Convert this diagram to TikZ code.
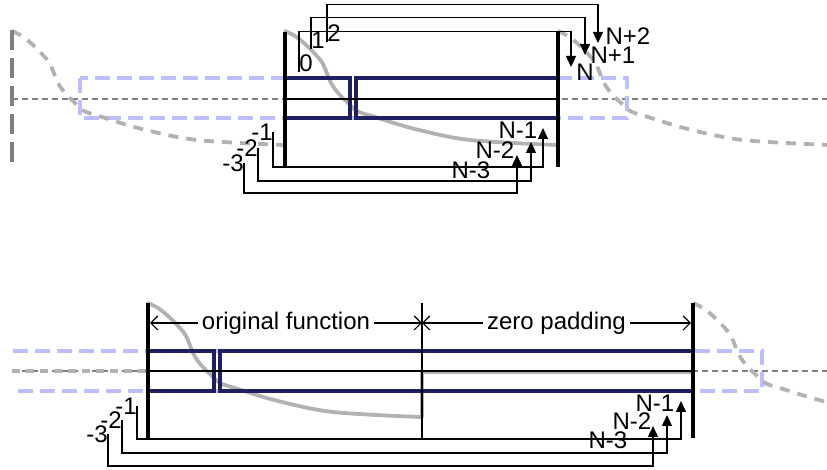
\documentclass[tikz,border=0pt]{standalone}
\usepackage{fontspec}
\setmainfont{Liberation Sans}
\usetikzlibrary{arrows.meta}
\definecolor{cellblue}{RGB}{32,32,96}
\definecolor{ghostblue}{RGB}{190,190,255}
\definecolor{fngray}{RGB}{178,178,178}
\newcommand{\fncurve}{plot[smooth,tension=0.55] coordinates {(0,-68) (10,-63) (20,-55) (30,-45) (38,-35) (46,-16) (54,-5) (62,3) (72,12) (90,18) (130,30) (185,41) (272,46)}}
\tikzset{
	bar/.style={line width=2.2pt},
	cell/.style={draw=cellblue,line width=1.6pt},
	ghost/.style={draw=ghostblue,line width=1.6pt,dash pattern=on 7.5pt off 3.5pt},
	fn/.style={draw=fngray,line width=1.9pt,line join=round,line cap=round},
	fnext/.style={fn,line cap=butt,dash pattern=on 5pt off 4pt},
	axis/.style={draw=gray,line width=0.6pt,dash pattern=on 3pt off 2pt},
	wrap/.style={line width=0.6pt,-{Triangle[length=5.5pt,width=5pt]}},
	dim/.style={line width=0.6pt,{Straight Barb[length=3.5pt,width=7pt]}-{Straight Barb[length=3.5pt,width=7pt]}},
	idx/.style={inner sep=0pt,font=\fontsize{12}{14}\selectfont}
}
\begin{document}
\begin{tikzpicture}[x=0.5pt,y=-0.5pt]
	\useasboundingbox (0,0) rectangle (827,470);
	\begin{scope}
		\clip (0,0) rectangle (827,470);
		\draw[axis] (12,99) -- (827,99);\draw[ghost] (80,78) rectangle (627,118);
		\draw[fnext,shift={(12,99)}] \fncurve;\draw[fnext,shift={(558,99)}] \fncurve;
		\draw[draw=gray,line width=2pt,dash pattern=on 10pt off 4pt] (12,30) -- (12,167);
		\draw[axis] (12,371) -- (827,371);\draw[ghost] (13,351) -- (762,351) -- (762,391) -- (13,391);
		\draw[fnext,dash pattern=on 4pt off 3pt] (12,371) -- (146,371);\draw[fnext,shift={(693,371)}] \fncurve;
	\end{scope}
	% circular wrap
	\draw[fn,shift={(285,99)}] \fncurve;
	\draw[cell] (285,78) rectangle (350,118);\draw[cell] (356,78) rectangle (558,118);\draw[line width=0.6pt] (285,99) -- (558,99);
	\draw[bar] (285,32) -- (285,167);\draw[bar] (558,32) -- (558,167);
	\foreach \n/\lx/\ly/\h/\tx/\ty/\txt/\nx/\ny in {0/306/63/40/571/67/N/585/72,1/318/40/31/585/55/N+1/613/55,2/334/33/37/598/43/N+2/628/36}{
		\node[idx] (l\n) at (\lx,\ly) {\n};\node[idx] (u\n) at (\nx,\ny) {\txt};\coordinate (r\n) at (\tx,\ty);
		\draw[wrap] (l\n.south west) -- ++(0,-\h) -| (r\n);}
	\foreach \n/\lx/\ly/\d/\tx/\ty/\nx/\ny in {1/262/132/35/543/128/518/130,2/247/148/33/531/142/495/150,3/233/163/30/517/155/471/170}{
		\node[idx] (m\n) at (\lx,\ly) {-\n};\node[idx] (k\n) at (\nx,\ny) {N-\n};\coordinate (q\n) at (\tx,\ty);
		\draw[wrap] (m\n.east) -- ++(0,\d) -| (q\n);}
	% zero padding
	\draw[fn,shift={(148,371)}] \fncurve -- (274,46) -- (274,1) -- (545,1);
	\draw[cell] (148,351) rectangle (214,391);\draw[cell] (220,351) rectangle (693,391);\draw[line width=0.6pt] (148,371) -- (693,371);
	\draw[line width=0.6pt] (422,303) -- (422,439);\draw[bar] (148,303) -- (148,439);\draw[bar] (693,303) -- (693,438);
	\draw[dim] (150,323) -- node[idx,fill=white,inner sep=2pt] (orig) {original function} (422,323);
	\draw[dim] (422,323) -- node[idx,fill=white,inner sep=2pt] (pad) {zero padding} (691,323);
	\foreach \n/\lx/\ly/\d/\tx/\ty/\nx/\ny in {1/126/406/33/681/401/655/403,2/111/420/33/667/415/632/421,3/97/434/32/653/426/608/440}{
		\node[idx] (p\n) at (\lx,\ly) {-\n};\node[idx] (z\n) at (\nx,\ny) {N-\n};\coordinate (w\n) at (\tx,\ty);
		\draw[wrap] (p\n.east) -- ++(0,\d) -| (w\n);}
\end{tikzpicture}
\end{document}
